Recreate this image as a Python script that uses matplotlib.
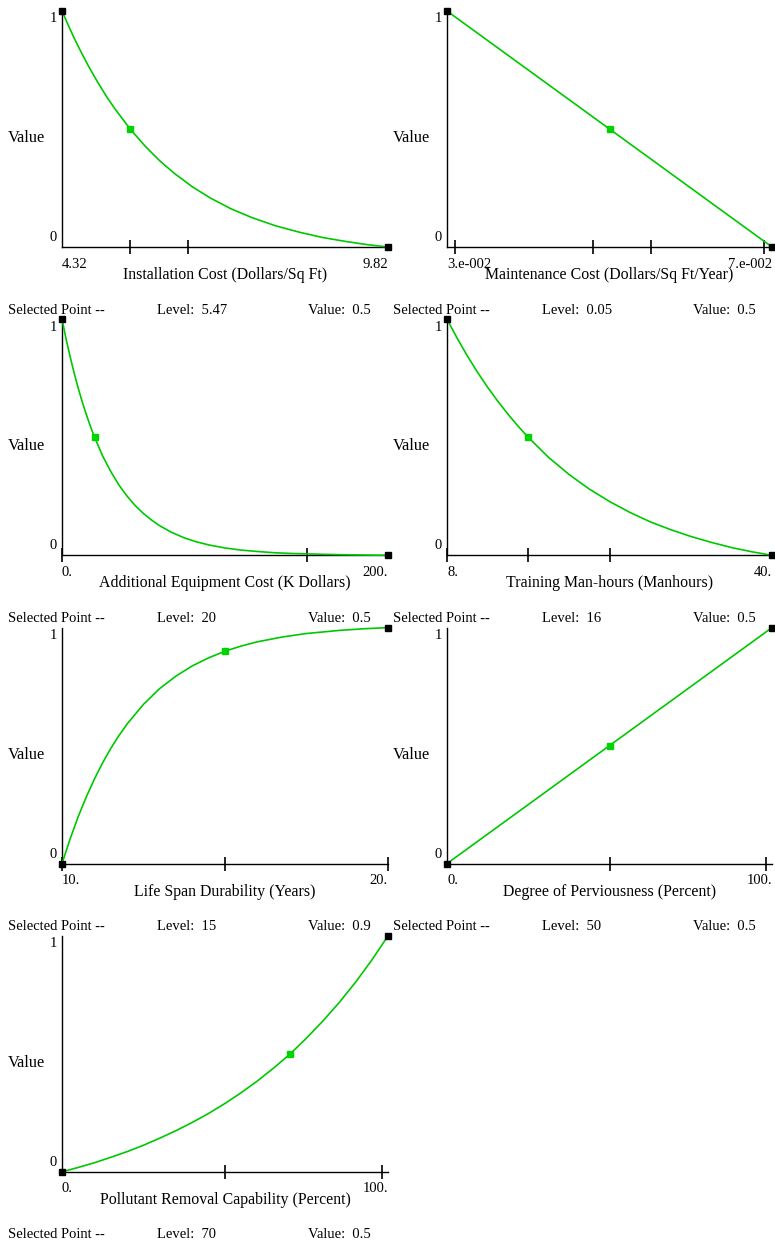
import matplotlib
matplotlib.use('Agg')
from matplotlib import pyplot as plt

# value function curves
install_x = [4.32, 4.42, 4.52, 4.62, 4.77, 4.92, 5.07, 5.22, 5.47, 5.72, 5.97, 6.22, 6.52,
             6.82, 7.17, 7.52, 7.92, 8.32, 8.72, 9.12, 9.47, 9.82]
install_y = [1.0, 0.943, 0.888, 0.837, 0.765, 0.699, 0.638, 0.583, 0.5, 0.428, 0.365, 0.311,
             0.255, 0.208, 0.162, 0.125, 0.090, 0.063, 0.040, 0.023, 0.010, 0.0]

maint_x = [0.029, 0.05, 0.071]
maint_y = [1.0, 0.5, 0.0]

equip_x = [0, 2.5, 5, 7.5, 10, 12.5, 15, 17.5, 20, 25, 30, 35, 40, 45, 50, 55, 60, 67, 75,
           82, 90, 100, 110, 120, 130, 140, 150, 162, 175, 187, 200]
equip_y = [1.0, 0.917, 0.841, 0.771, 0.707, 0.648, 0.595, 0.545, 0.5, 0.420, 0.354, 0.297,
           0.25, 0.210, 0.177, 0.149, 0.125, 0.098, 0.074, 0.058, 0.044, 0.031, 0.022, 0.016,
           0.011, 0.008, 0.006, 0.004, 0.002, 0.001, 0.0]

train_x = [8, 9, 10, 11, 12, 13, 14, 15, 16, 18, 20, 22, 24, 26, 28, 30, 32, 34, 36, 38, 40]
train_y = [1.0, 0.920, 0.845, 0.776, 0.712, 0.653, 0.598, 0.547, 0.5, 0.415, 0.343, 0.281,
           0.228, 0.182, 0.142, 0.109, 0.080, 0.055, 0.033, 0.015, 0.0]

life_x = [10, 10.25, 10.5, 10.75, 11, 11.25, 11.5, 11.75, 12, 12.5, 13, 13.5, 14, 14.5, 15,
          15.5, 16, 16.75, 17.5, 18.5, 19.25, 20]
life_y = [0.0, 0.105, 0.200, 0.284, 0.360, 0.428, 0.489, 0.543, 0.592, 0.675, 0.742, 0.795,
          0.838, 0.872, 0.9, 0.922, 0.940, 0.960, 0.975, 0.988, 0.995, 1.0]

perv_x = [0, 50, 100]
perv_y = [0.0, 0.5, 1.0]

pollut_x = [0, 5, 10, 15, 20, 25, 30, 35, 40, 45, 50, 55, 60, 65, 70, 75, 80, 85, 90, 95, 100]
pollut_y = [0.0, 0.019, 0.039, 0.062, 0.086, 0.113, 0.143, 0.175, 0.210, 0.248, 0.290, 0.336,
            0.386, 0.441, 0.5, 0.567, 0.639, 0.717, 0.803, 0.897, 1.0]

titles = ['Installation Cost (Dollars/Sq Ft)',
          'Maintenance Cost (Dollars/Sq Ft/Year)',
          'Additional Equipment Cost (K Dollars)',
          'Training Man-hours (Manhours)',
          'Life Span Durability (Years)',
          'Degree of Perviousness (Percent)',
          'Pollutant Removal Capability (Percent)']

end_labels = [('4.32', '9.82'), ('3.e-002', '7.e-002'), ('0.', '200.'), ('8.', '40.'),
              ('10.', '20.'), ('0.', '100.'), ('0.', '100.')]

axis_ticks = [[5.47, 6.45], [0.03, 0.0479, 0.0554, 0.07], [0, 150], [8, 16, 24],
              [10, 15, 20], [50, 98], [50, 98.2]]

sel_level = [5.47, 0.05, 20, 16, 15, 50, 70]
sel_level_text = ['5.47', '0.05', '20', '16', '15', '50', '70']
sel_value = [0.5, 0.5, 0.5, 0.5, 0.9, 0.5, 0.5]

GREEN = '#00c800'
GREEN_MARK = '#00d400'
W, H = 775, 1245


def main():
    plt.rcParams['font.family'] = ['Liberation Serif', 'DejaVu Serif']
    fs = 10.5

    fig = plt.figure(figsize=(W / 100, H / 100), dpi=100)
    fig.patch.set_facecolor('white')

    curves = [(install_x, install_y), (maint_x, maint_y), (equip_x, equip_y),
              (train_x, train_y), (life_x, life_y), (perv_x, perv_y),
              (pollut_x, pollut_y)]

    def ftext(x, y, s, size=fs, **kw):
        fig.text(x / W, 1 - y / H, s, fontsize=size, color='black', **kw)

    for i, (xs, ys) in enumerate(curves):
        row, col = i // 2, i % 2
        cx = 385 * col
        x0 = 62 + cx
        x1 = 388 + 384 * col
        ytop = 11 + 308.3 * row
        ybot = 247 + 308.3 * row

        ax = fig.add_axes([x0 / W, 1 - ybot / H, (x1 - x0) / W, (ybot - ytop) / H])
        ax.plot(xs, ys, color=GREEN, lw=1.2, clip_on=False, zorder=3)
        ax.plot([xs[0], xs[-1]], [ys[0], ys[-1]], 's', color='black', ms=5,
                clip_on=False, zorder=5)
        ax.plot([sel_level[i]], [sel_value[i]], 's', color=GREEN_MARK, ms=5,
                clip_on=False, zorder=5)
        ax.set_xlim(xs[0], xs[-1])
        ax.set_ylim(0, 1)

        for s in ['top', 'right']:
            ax.spines[s].set_visible(False)
        for s in ['left', 'bottom']:
            ax.spines[s].set_linewidth(1.0)
            ax.spines[s].set_color('black')
        ax.set_yticks([])
        ax.set_xticks(axis_ticks[i])
        ax.tick_params(axis='x', direction='inout', length=10, width=1.2,
                       labelbottom=False)
        ax.patch.set_alpha(0)

        # value axis labels
        ftext(x0 - 5, ytop + 8, '1', ha='right', va='center')
        ftext(x0 - 5, ybot - 9.5, '0', ha='right', va='center')
        ftext(cx + 8, (ytop + ybot) / 2 + 9, 'Value', size=11.8, ha='left', va='center')

        # end labels and axis title
        ftext(x0, ybot + 17, end_labels[i][0], ha='left', va='center')
        ftext(x1, ybot + 17, end_labels[i][1], ha='right', va='center')
        ftext((x0 + x1) / 2, ybot + 28, titles[i], size=11.4, ha='center', va='center')

        # selected point line
        ys_txt = ybot + 63
        ftext(cx + 8, ys_txt, 'Selected Point --', ha='left', va='center')
        ftext(cx + 157, ys_txt, 'Level:  ' + sel_level_text[i], ha='left', va='center')
        ftext(cx + 308, ys_txt, 'Value:  ' + str(sel_value[i]), ha='left', va='center')

    fig.savefig('out.png', dpi=100)
    plt.close(fig)


if __name__ == "__main__":
    main()
